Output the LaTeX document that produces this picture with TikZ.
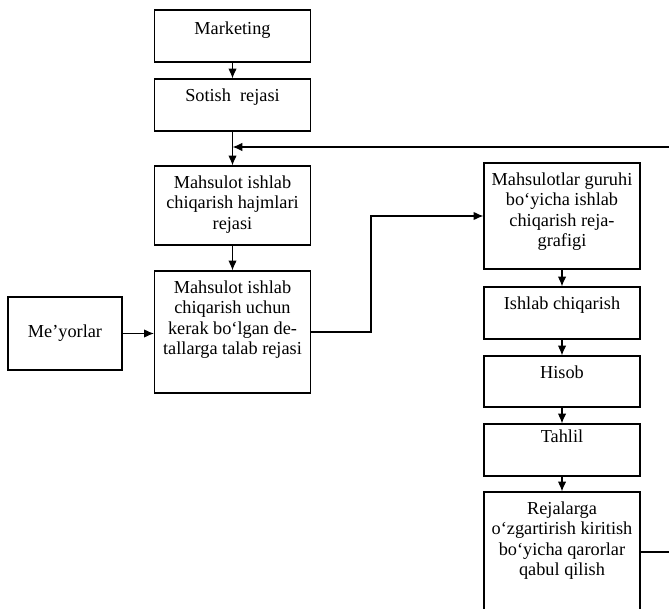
\documentclass[tikz,border=0pt]{standalone}
\usepackage{fontspec}
\setmainfont{Liberation Serif}
\usetikzlibrary{arrows.meta}

\tikzset{
  blok/.style={draw, line width=0.8pt, minimum width=3.9cm, inner sep=0pt},
  txt/.style={anchor=north, align=center, yshift=-7pt, inner sep=0pt,
    font=\fontsize{13}{14.5}\selectfont},
  strelka/.style={line width=0.8pt, -{Latex[length=7pt,width=6pt]}},
}

\begin{document}
\begin{tikzpicture}[x=0.025cm, y=-0.025cm]
\clip (0,0) rectangle (669,609);

% chap ustun
\node[blok, minimum height=1.3cm, label={[txt, yshift=-1.5pt]north:Marketing}] (mark) at (232.5,36) {};
\node[blok, minimum height=1.3cm, label={[txt]north:Sotish\ \ rejasi}] (sotish) at (232.5,105) {};
\node[blok, minimum height=1.975cm,
  label={[txt]north:Mahsulot ishlab\\chiqarish hajmlari\\rejasi}] (hajm) at (232.5,205.5) {};
\node[blok, minimum height=3.05cm,
  label={[txt]north:Mahsulot ishlab\\chiqarish uchun\\kerak bo‘lgan de-\\tallarga talab rejasi}] (detal) at (232.5,332) {};
\node[blok, minimum width=2.85cm, minimum height=1.825cm,
  font=\fontsize{13}{14.5}\selectfont] (meyor) at (65,333.5) {Me’yorlar};

% o'ng ustun
\node[blok, minimum height=2.65cm,
  label={[txt]north:Mahsulotlar guruhi\\bo‘yicha ishlab\\chiqarish reja-\\grafigi}] (guruh) at (562,216) {};
\node[blok, minimum height=1.3cm, label={[txt]north:Ishlab chiqarish}] (ishlab) at (562,313) {};
\node[blok, minimum height=1.275cm, label={[txt]north:Hisob}] (hisob) at (562,381.5) {};
\node[blok, minimum height=1.3cm, label={[txt, yshift=3pt]north:Tahlil}] (tahlil) at (562,450) {};
\node[blok, minimum height=3cm,
  label={[txt]north:Rejalarga\\o‘zgartirish kiritish\\bo‘yicha qarorlar\\qabul qilish}] (rej) at (562,552) {};

% strelkalar
\draw[strelka] (mark) -- (sotish);
\draw[strelka] (sotish) -- (hajm);
\draw[strelka] (hajm) -- (detal);
\draw[strelka] (meyor.east) -- (meyor.east -| detal.west);

\coordinate (burilish) at (371,332);
\draw[strelka] (detal.east) -- (burilish) |- (guruh.west);

\draw[strelka] (guruh) -- (ishlab);
\draw[strelka] (ishlab) -- (hisob);
\draw[strelka] (hisob) -- (tahlil);
\draw[strelka] (tahlil) -- (rej);

% qaytma aloqa
\coordinate (qaytish) at (675,552);
\coordinate (kirish) at (232.5,147);
\draw[strelka] (rej.east) -- (qaytish) |- (kirish);
\end{tikzpicture}
\end{document}
